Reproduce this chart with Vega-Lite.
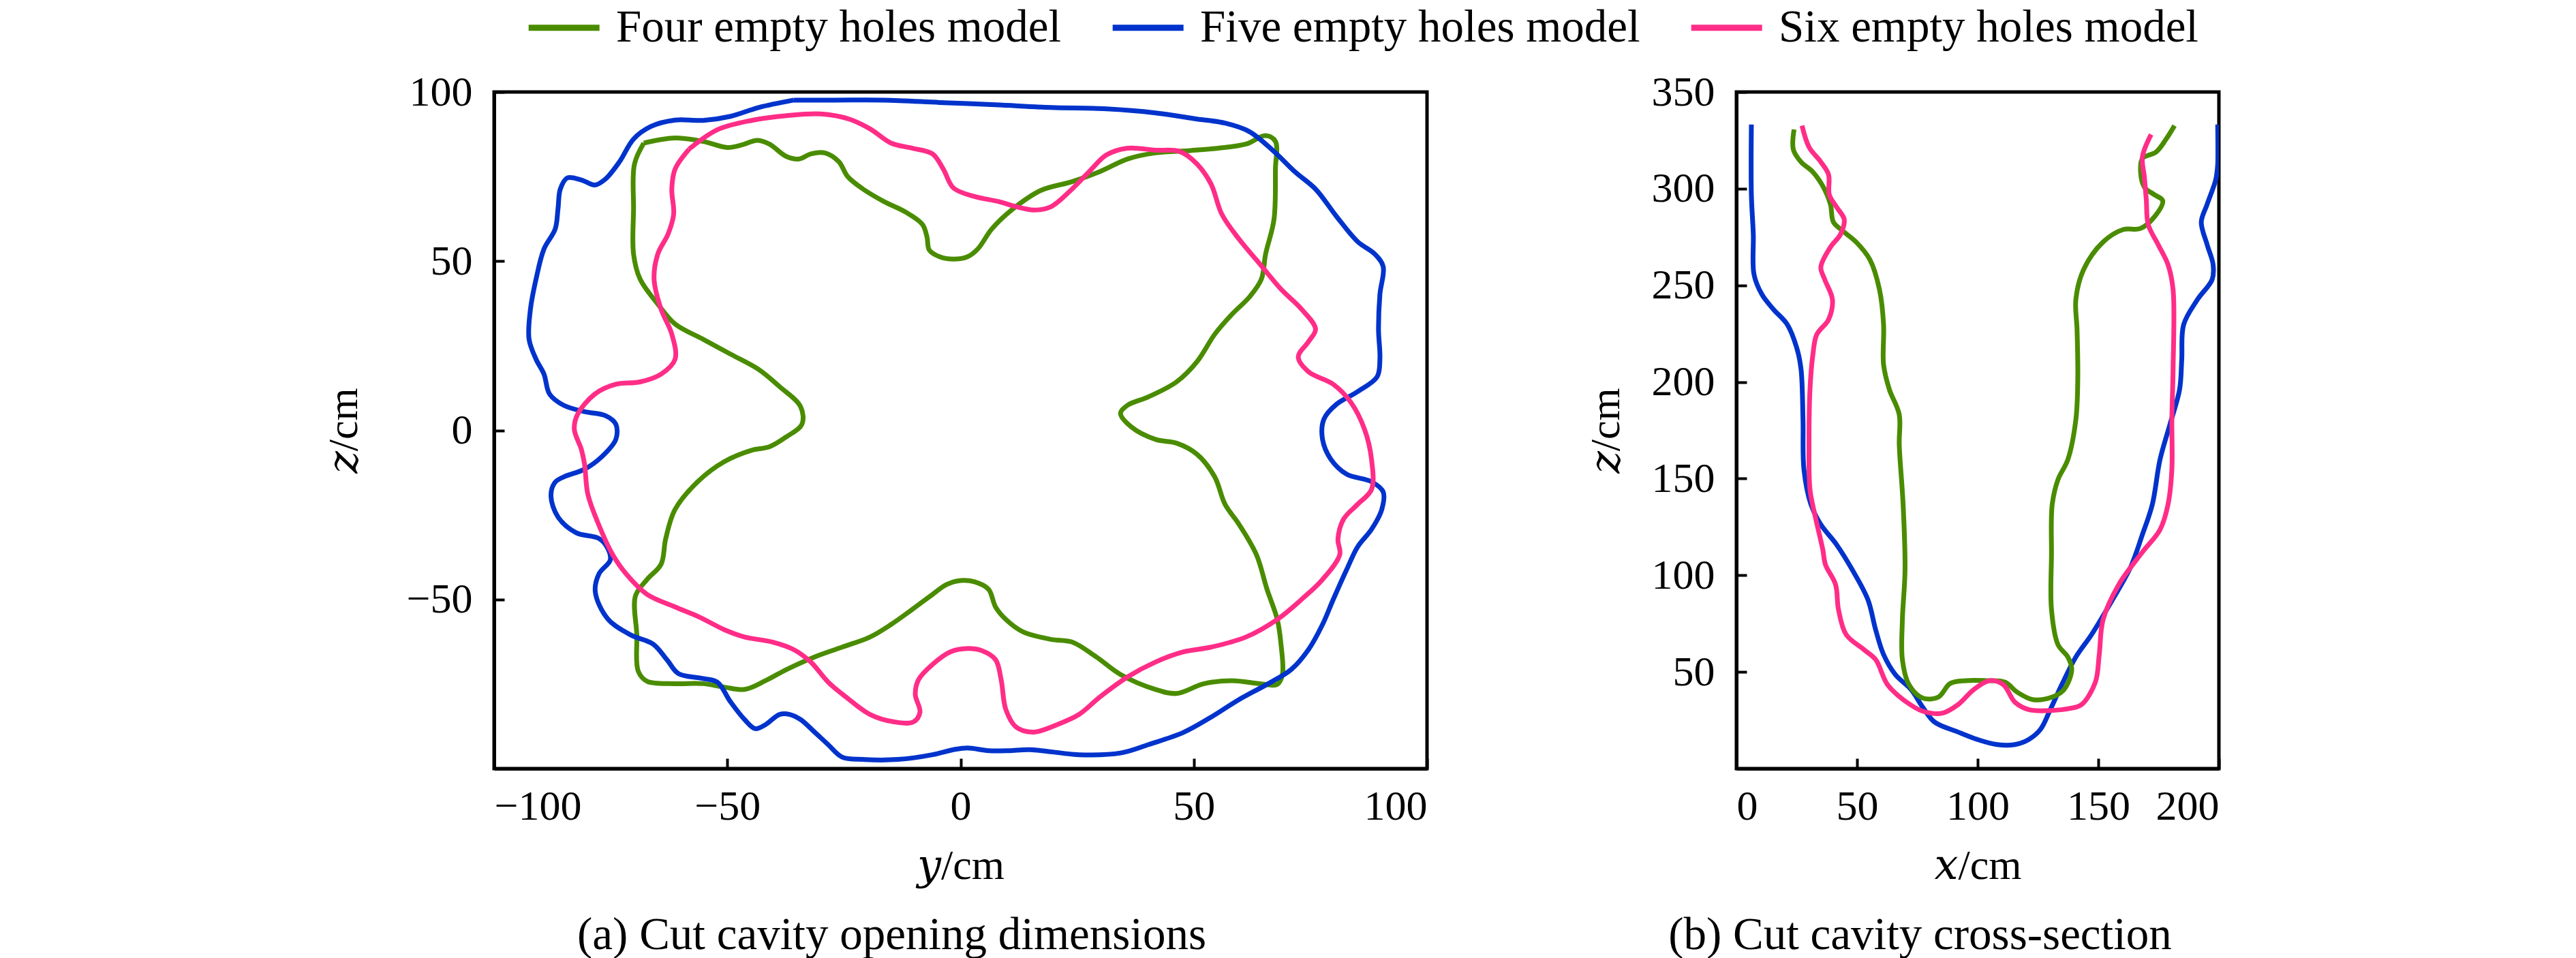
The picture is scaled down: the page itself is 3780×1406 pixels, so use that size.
{
  "$schema": "https://vega.github.io/schema/vega-lite/v6.json",
  "padding": {"left": 470, "top": 7, "right": 5, "bottom": 5},
  "background": "white",
  "config": {
    "font": "Liberation Serif",
    "view": {"stroke": "black", "strokeWidth": 5},
    "axis": {
      "grid": false,
      "domainColor": "black",
      "domainWidth": 5,
      "tickColor": "black",
      "tickWidth": 4,
      "tickSize": -15,
      "labelFont": "Liberation Serif",
      "labelFontSize": 62,
      "labelColor": "black",
      "titleFont": "Liberation Serif, DejaVu Serif",
      "titleFontSize": 62,
      "titleFontWeight": "normal",
      "titleColor": "black"
    },
    "axisX": {"labelPadding": 40, "titlePadding": 26},
    "axisY": {"labelPadding": 47},
    "title": {
      "font": "Liberation Serif",
      "fontSize": 67,
      "fontWeight": "normal",
      "color": "black",
      "orient": "bottom",
      "frame": "bounds",
      "offset": 39
    }
  },
  "spacing": 223,
  "datasets": {
    "opening": [
      {"model": "Four empty holes model", "i": 0, "y": -67.9, "z": 84.9},
      {"model": "Four empty holes model", "i": 1, "y": -61.2, "z": 86.4},
      {"model": "Four empty holes model", "i": 2, "y": -55.2, "z": 85.4},
      {"model": "Four empty holes model", "i": 3, "y": -50.0, "z": 83.6},
      {"model": "Four empty holes model", "i": 4, "y": -47.0, "z": 84.3},
      {"model": "Four empty holes model", "i": 5, "y": -43.6, "z": 85.7},
      {"model": "Four empty holes model", "i": 6, "y": -41.0, "z": 84.6},
      {"model": "Four empty holes model", "i": 7, "y": -37.3, "z": 80.9},
      {"model": "Four empty holes model", "i": 8, "y": -34.6, "z": 80.2},
      {"model": "Four empty holes model", "i": 9, "y": -32.1, "z": 81.7},
      {"model": "Four empty holes model", "i": 10, "y": -29.1, "z": 82.0},
      {"model": "Four empty holes model", "i": 11, "y": -26.1, "z": 79.4},
      {"model": "Four empty holes model", "i": 12, "y": -24.2, "z": 75.0},
      {"model": "Four empty holes model", "i": 13, "y": -20.9, "z": 71.3},
      {"model": "Four empty holes model", "i": 14, "y": -16.4, "z": 67.6},
      {"model": "Four empty holes model", "i": 15, "y": -11.9, "z": 64.6},
      {"model": "Four empty holes model", "i": 16, "y": -8.2, "z": 60.9},
      {"model": "Four empty holes model", "i": 17, "y": -7.2, "z": 57.2},
      {"model": "Four empty holes model", "i": 18, "y": -6.7, "z": 53.3},
      {"model": "Four empty holes model", "i": 19, "y": -4.5, "z": 51.3},
      {"model": "Four empty holes model", "i": 20, "y": -1.5, "z": 50.6},
      {"model": "Four empty holes model", "i": 21, "y": 1.5, "z": 51.3},
      {"model": "Four empty holes model", "i": 22, "y": 3.7, "z": 53.6},
      {"model": "Four empty holes model", "i": 23, "y": 6.7, "z": 59.5},
      {"model": "Four empty holes model", "i": 24, "y": 11.2, "z": 65.4},
      {"model": "Four empty holes model", "i": 25, "y": 17.2, "z": 70.9},
      {"model": "Four empty holes model", "i": 26, "y": 23.9, "z": 73.5},
      {"model": "Four empty holes model", "i": 27, "y": 29.9, "z": 76.5},
      {"model": "Four empty holes model", "i": 28, "y": 35.8, "z": 80.2},
      {"model": "Four empty holes model", "i": 29, "y": 41.8, "z": 82.0},
      {"model": "Four empty holes model", "i": 30, "y": 49.3, "z": 82.7},
      {"model": "Four empty holes model", "i": 31, "y": 55.2, "z": 83.4},
      {"model": "Four empty holes model", "i": 32, "y": 61.2, "z": 84.6},
      {"model": "Four empty holes model", "i": 33, "y": 65.4, "z": 87.1},
      {"model": "Four empty holes model", "i": 34, "y": 67.5, "z": 85.4},
      {"model": "Four empty holes model", "i": 35, "y": 67.5, "z": 77.2},
      {"model": "Four empty holes model", "i": 36, "y": 67.2, "z": 62.4},
      {"model": "Four empty holes model", "i": 37, "y": 65.4, "z": 52.1},
      {"model": "Four empty holes model", "i": 38, "y": 64.5, "z": 44.7},
      {"model": "Four empty holes model", "i": 39, "y": 62.0, "z": 39.5},
      {"model": "Four empty holes model", "i": 40, "y": 58.2, "z": 34.3},
      {"model": "Four empty holes model", "i": 41, "y": 54.5, "z": 28.4},
      {"model": "Four empty holes model", "i": 42, "y": 50.7, "z": 20.3},
      {"model": "Four empty holes model", "i": 43, "y": 46.3, "z": 14.3},
      {"model": "Four empty holes model", "i": 44, "y": 40.3, "z": 9.9},
      {"model": "Four empty holes model", "i": 45, "y": 35.8, "z": 7.4},
      {"model": "Four empty holes model", "i": 46, "y": 34.3, "z": 5.0},
      {"model": "Four empty holes model", "i": 47, "y": 36.6, "z": 1.0},
      {"model": "Four empty holes model", "i": 48, "y": 41.8, "z": -2.7},
      {"model": "Four empty holes model", "i": 49, "y": 46.3, "z": -3.8},
      {"model": "Four empty holes model", "i": 50, "y": 50.7, "z": -7.1},
      {"model": "Four empty holes model", "i": 51, "y": 54.5, "z": -13.8},
      {"model": "Four empty holes model", "i": 52, "y": 56.7, "z": -21.9},
      {"model": "Four empty holes model", "i": 53, "y": 59.7, "z": -27.8},
      {"model": "Four empty holes model", "i": 54, "y": 63.4, "z": -36.7},
      {"model": "Four empty holes model", "i": 55, "y": 65.7, "z": -47.0},
      {"model": "Four empty holes model", "i": 56, "y": 67.9, "z": -55.9},
      {"model": "Four empty holes model", "i": 57, "y": 68.7, "z": -63.3},
      {"model": "Four empty holes model", "i": 58, "y": 69.0, "z": -72.2},
      {"model": "Four empty holes model", "i": 59, "y": 67.9, "z": -75.1},
      {"model": "Four empty holes model", "i": 60, "y": 64.2, "z": -74.9},
      {"model": "Four empty holes model", "i": 61, "y": 58.2, "z": -74.0},
      {"model": "Four empty holes model", "i": 62, "y": 52.2, "z": -74.9},
      {"model": "Four empty holes model", "i": 63, "y": 46.3, "z": -77.8},
      {"model": "Four empty holes model", "i": 64, "y": 41.8, "z": -76.6},
      {"model": "Four empty holes model", "i": 65, "y": 34.3, "z": -72.2},
      {"model": "Four empty holes model", "i": 66, "y": 29.1, "z": -67.0},
      {"model": "Four empty holes model", "i": 67, "y": 23.9, "z": -62.6},
      {"model": "Four empty holes model", "i": 68, "y": 19.4, "z": -61.8},
      {"model": "Four empty holes model", "i": 69, "y": 13.4, "z": -59.6},
      {"model": "Four empty holes model", "i": 70, "y": 9.7, "z": -55.9},
      {"model": "Four empty holes model", "i": 71, "y": 7.5, "z": -52.2},
      {"model": "Four empty holes model", "i": 72, "y": 6.0, "z": -47.0},
      {"model": "Four empty holes model", "i": 73, "y": 3.0, "z": -44.8},
      {"model": "Four empty holes model", "i": 74, "y": 0.0, "z": -44.4},
      {"model": "Four empty holes model", "i": 75, "y": -3.0, "z": -45.6},
      {"model": "Four empty holes model", "i": 76, "y": -6.0, "z": -48.5},
      {"model": "Four empty holes model", "i": 77, "y": -10.4, "z": -53.0},
      {"model": "Four empty holes model", "i": 78, "y": -14.9, "z": -57.4},
      {"model": "Four empty holes model", "i": 79, "y": -19.4, "z": -61.1},
      {"model": "Four empty holes model", "i": 80, "y": -25.4, "z": -64.1},
      {"model": "Four empty holes model", "i": 81, "y": -31.3, "z": -67.0},
      {"model": "Four empty holes model", "i": 82, "y": -37.3, "z": -70.7},
      {"model": "Four empty holes model", "i": 83, "y": -41.8, "z": -74.0},
      {"model": "Four empty holes model", "i": 84, "y": -46.3, "z": -76.6},
      {"model": "Four empty holes model", "i": 85, "y": -50.7, "z": -75.9},
      {"model": "Four empty holes model", "i": 86, "y": -55.2, "z": -74.9},
      {"model": "Four empty holes model", "i": 87, "y": -61.2, "z": -74.9},
      {"model": "Four empty holes model", "i": 88, "y": -67.2, "z": -74.2},
      {"model": "Four empty holes model", "i": 89, "y": -69.1, "z": -71.2},
      {"model": "Four empty holes model", "i": 90, "y": -69.4, "z": -60.4},
      {"model": "Four empty holes model", "i": 91, "y": -69.7, "z": -49.0},
      {"model": "Four empty holes model", "i": 92, "y": -67.2, "z": -44.1},
      {"model": "Four empty holes model", "i": 93, "y": -64.2, "z": -39.6},
      {"model": "Four empty holes model", "i": 94, "y": -63.2, "z": -32.0},
      {"model": "Four empty holes model", "i": 95, "y": -61.2, "z": -23.4},
      {"model": "Four empty holes model", "i": 96, "y": -56.2, "z": -15.0},
      {"model": "Four empty holes model", "i": 97, "y": -50.7, "z": -9.3},
      {"model": "Four empty holes model", "i": 98, "y": -44.8, "z": -5.9},
      {"model": "Four empty holes model", "i": 99, "y": -41.0, "z": -4.9},
      {"model": "Four empty holes model", "i": 100, "y": -37.3, "z": -1.9},
      {"model": "Four empty holes model", "i": 101, "y": -34.0, "z": 1.8},
      {"model": "Four empty holes model", "i": 102, "y": -34.3, "z": 7.0},
      {"model": "Four empty holes model", "i": 103, "y": -38.8, "z": 12.9},
      {"model": "Four empty holes model", "i": 104, "y": -43.3, "z": 18.0},
      {"model": "Four empty holes model", "i": 105, "y": -49.3, "z": 22.5},
      {"model": "Four empty holes model", "i": 106, "y": -55.2, "z": 26.9},
      {"model": "Four empty holes model", "i": 107, "y": -61.2, "z": 31.4},
      {"model": "Four empty holes model", "i": 108, "y": -64.9, "z": 37.3},
      {"model": "Four empty holes model", "i": 109, "y": -68.7, "z": 44.7},
      {"model": "Four empty holes model", "i": 110, "y": -70.1, "z": 52.1},
      {"model": "Four empty holes model", "i": 111, "y": -70.1, "z": 65.4},
      {"model": "Four empty holes model", "i": 112, "y": -69.9, "z": 78.7},
      {"model": "Four empty holes model", "i": 113, "y": -67.9, "z": 84.9},
      {"model": "Five empty holes model", "i": 0, "y": -35.8, "z": 97.6},
      {"model": "Five empty holes model", "i": 1, "y": -26.9, "z": 97.6},
      {"model": "Five empty holes model", "i": 2, "y": -16.4, "z": 97.6},
      {"model": "Five empty holes model", "i": 3, "y": -4.5, "z": 96.9},
      {"model": "Five empty holes model", "i": 4, "y": 7.5, "z": 96.2},
      {"model": "Five empty holes model", "i": 5, "y": 19.4, "z": 95.4},
      {"model": "Five empty holes model", "i": 6, "y": 31.3, "z": 95.0},
      {"model": "Five empty holes model", "i": 7, "y": 41.8, "z": 93.8},
      {"model": "Five empty holes model", "i": 8, "y": 50.7, "z": 92.0},
      {"model": "Five empty holes model", "i": 9, "y": 56.7, "z": 90.8},
      {"model": "Five empty holes model", "i": 10, "y": 61.9, "z": 88.3},
      {"model": "Five empty holes model", "i": 11, "y": 67.2, "z": 82.4},
      {"model": "Five empty holes model", "i": 12, "y": 71.6, "z": 76.5},
      {"model": "Five empty holes model", "i": 13, "y": 76.1, "z": 71.3},
      {"model": "Five empty holes model", "i": 14, "y": 80.6, "z": 63.2},
      {"model": "Five empty holes model", "i": 15, "y": 85.1, "z": 55.8},
      {"model": "Five empty holes model", "i": 16, "y": 88.8, "z": 52.1},
      {"model": "Five empty holes model", "i": 17, "y": 90.6, "z": 48.4},
      {"model": "Five empty holes model", "i": 18, "y": 89.9, "z": 40.2},
      {"model": "Five empty holes model", "i": 19, "y": 89.6, "z": 29.9},
      {"model": "Five empty holes model", "i": 20, "y": 89.9, "z": 21.0},
      {"model": "Five empty holes model", "i": 21, "y": 89.3, "z": 15.8},
      {"model": "Five empty holes model", "i": 22, "y": 85.1, "z": 11.4},
      {"model": "Five empty holes model", "i": 23, "y": 80.6, "z": 7.7},
      {"model": "Five empty holes model", "i": 24, "y": 77.9, "z": 3.3},
      {"model": "Five empty holes model", "i": 25, "y": 77.6, "z": -2.7},
      {"model": "Five empty holes model", "i": 26, "y": 79.4, "z": -8.6},
      {"model": "Five empty holes model", "i": 27, "y": 82.8, "z": -13.0},
      {"model": "Five empty holes model", "i": 28, "y": 88.1, "z": -15.2},
      {"model": "Five empty holes model", "i": 29, "y": 90.6, "z": -18.2},
      {"model": "Five empty holes model", "i": 30, "y": 90.3, "z": -23.4},
      {"model": "Five empty holes model", "i": 31, "y": 88.1, "z": -29.3},
      {"model": "Five empty holes model", "i": 32, "y": 85.1, "z": -34.5},
      {"model": "Five empty holes model", "i": 33, "y": 82.8, "z": -41.1},
      {"model": "Five empty holes model", "i": 34, "y": 79.9, "z": -50.0},
      {"model": "Five empty holes model", "i": 35, "y": 77.6, "z": -57.4},
      {"model": "Five empty holes model", "i": 36, "y": 74.6, "z": -64.8},
      {"model": "Five empty holes model", "i": 37, "y": 70.9, "z": -70.7},
      {"model": "Five empty holes model", "i": 38, "y": 65.7, "z": -75.1},
      {"model": "Five empty holes model", "i": 39, "y": 59.7, "z": -79.6},
      {"model": "Five empty holes model", "i": 40, "y": 53.7, "z": -84.8},
      {"model": "Five empty holes model", "i": 41, "y": 47.8, "z": -89.3},
      {"model": "Five empty holes model", "i": 42, "y": 40.3, "z": -92.9},
      {"model": "Five empty holes model", "i": 43, "y": 34.3, "z": -95.4},
      {"model": "Five empty holes model", "i": 44, "y": 25.4, "z": -95.9},
      {"model": "Five empty holes model", "i": 45, "y": 14.9, "z": -94.4},
      {"model": "Five empty holes model", "i": 46, "y": 10.4, "z": -94.7},
      {"model": "Five empty holes model", "i": 47, "y": 6.0, "z": -94.7},
      {"model": "Five empty holes model", "i": 48, "y": 1.5, "z": -93.9},
      {"model": "Five empty holes model", "i": 49, "y": -1.5, "z": -94.4},
      {"model": "Five empty holes model", "i": 50, "y": -6.0, "z": -95.9},
      {"model": "Five empty holes model", "i": 51, "y": -13.4, "z": -97.3},
      {"model": "Five empty holes model", "i": 52, "y": -20.9, "z": -97.3},
      {"model": "Five empty holes model", "i": 53, "y": -25.4, "z": -96.6},
      {"model": "Five empty holes model", "i": 54, "y": -28.4, "z": -92.9},
      {"model": "Five empty holes model", "i": 55, "y": -31.3, "z": -89.2},
      {"model": "Five empty holes model", "i": 56, "y": -34.3, "z": -85.5},
      {"model": "Five empty holes model", "i": 57, "y": -36.6, "z": -84.0},
      {"model": "Five empty holes model", "i": 58, "y": -38.8, "z": -84.0},
      {"model": "Five empty holes model", "i": 59, "y": -41.8, "z": -87.0},
      {"model": "Five empty holes model", "i": 60, "y": -44.0, "z": -88.2},
      {"model": "Five empty holes model", "i": 61, "y": -46.3, "z": -85.5},
      {"model": "Five empty holes model", "i": 62, "y": -49.3, "z": -80.3},
      {"model": "Five empty holes model", "i": 63, "y": -52.2, "z": -74.4},
      {"model": "Five empty holes model", "i": 64, "y": -55.6, "z": -73.3},
      {"model": "Five empty holes model", "i": 65, "y": -60.5, "z": -71.9},
      {"model": "Five empty holes model", "i": 66, "y": -62.9, "z": -67.9},
      {"model": "Five empty holes model", "i": 67, "y": -65.9, "z": -63.2},
      {"model": "Five empty holes model", "i": 68, "y": -70.7, "z": -60.5},
      {"model": "Five empty holes model", "i": 69, "y": -75.6, "z": -55.8},
      {"model": "Five empty holes model", "i": 70, "y": -78.3, "z": -47.8},
      {"model": "Five empty holes model", "i": 71, "y": -77.5, "z": -42.4},
      {"model": "Five empty holes model", "i": 72, "y": -75.1, "z": -38.4},
      {"model": "Five empty holes model", "i": 73, "y": -75.6, "z": -35.0},
      {"model": "Five empty holes model", "i": 74, "y": -77.5, "z": -32.0},
      {"model": "Five empty holes model", "i": 75, "y": -82.4, "z": -30.3},
      {"model": "Five empty holes model", "i": 76, "y": -86.3, "z": -25.6},
      {"model": "Five empty holes model", "i": 77, "y": -87.8, "z": -19.5},
      {"model": "Five empty holes model", "i": 78, "y": -87.0, "z": -15.5},
      {"model": "Five empty holes model", "i": 79, "y": -85.1, "z": -13.8},
      {"model": "Five empty holes model", "i": 80, "y": -80.6, "z": -11.5},
      {"model": "Five empty holes model", "i": 81, "y": -76.9, "z": -7.8},
      {"model": "Five empty holes model", "i": 82, "y": -73.9, "z": -2.7},
      {"model": "Five empty holes model", "i": 83, "y": -73.9, "z": 1.8},
      {"model": "Five empty holes model", "i": 84, "y": -76.1, "z": 4.3},
      {"model": "Five empty holes model", "i": 85, "y": -80.6, "z": 5.5},
      {"model": "Five empty holes model", "i": 86, "y": -85.1, "z": 7.4},
      {"model": "Five empty holes model", "i": 87, "y": -88.1, "z": 10.7},
      {"model": "Five empty holes model", "i": 88, "y": -89.3, "z": 16.6},
      {"model": "Five empty holes model", "i": 89, "y": -91.0, "z": 21.0},
      {"model": "Five empty holes model", "i": 90, "y": -92.5, "z": 26.9},
      {"model": "Five empty holes model", "i": 91, "y": -92.2, "z": 35.8},
      {"model": "Five empty holes model", "i": 92, "y": -91.0, "z": 44.7},
      {"model": "Five empty holes model", "i": 93, "y": -89.3, "z": 53.6},
      {"model": "Five empty holes model", "i": 94, "y": -86.9, "z": 59.5},
      {"model": "Five empty holes model", "i": 95, "y": -86.3, "z": 65.4},
      {"model": "Five empty holes model", "i": 96, "y": -85.8, "z": 71.3},
      {"model": "Five empty holes model", "i": 97, "y": -84.3, "z": 74.6},
      {"model": "Five empty holes model", "i": 98, "y": -81.3, "z": 74.0},
      {"model": "Five empty holes model", "i": 99, "y": -78.4, "z": 72.5},
      {"model": "Five empty holes model", "i": 100, "y": -76.1, "z": 74.3},
      {"model": "Five empty holes model", "i": 101, "y": -73.1, "z": 79.4},
      {"model": "Five empty holes model", "i": 102, "y": -70.1, "z": 86.1},
      {"model": "Five empty holes model", "i": 103, "y": -66.4, "z": 89.8},
      {"model": "Five empty holes model", "i": 104, "y": -61.2, "z": 91.7},
      {"model": "Five empty holes model", "i": 105, "y": -55.2, "z": 91.6},
      {"model": "Five empty holes model", "i": 106, "y": -49.3, "z": 92.8},
      {"model": "Five empty holes model", "i": 107, "y": -43.3, "z": 95.4},
      {"model": "Five empty holes model", "i": 108, "y": -35.8, "z": 97.6},
      {"model": "Six empty holes model", "i": 0, "y": -58.2, "z": 83.1},
      {"model": "Six empty holes model", "i": 1, "y": -52.2, "z": 88.8},
      {"model": "Six empty holes model", "i": 2, "y": -44.8, "z": 91.6},
      {"model": "Six empty holes model", "i": 3, "y": -37.3, "z": 93.0},
      {"model": "Six empty holes model", "i": 4, "y": -29.9, "z": 93.5},
      {"model": "Six empty holes model", "i": 5, "y": -23.9, "z": 92.0},
      {"model": "Six empty holes model", "i": 6, "y": -19.4, "z": 89.1},
      {"model": "Six empty holes model", "i": 7, "y": -14.9, "z": 84.9},
      {"model": "Six empty holes model", "i": 8, "y": -10.4, "z": 83.4},
      {"model": "Six empty holes model", "i": 9, "y": -6.0, "z": 81.7},
      {"model": "Six empty holes model", "i": 10, "y": -3.7, "z": 77.2},
      {"model": "Six empty holes model", "i": 11, "y": -1.5, "z": 71.6},
      {"model": "Six empty holes model", "i": 12, "y": 3.0, "z": 69.1},
      {"model": "Six empty holes model", "i": 13, "y": 8.2, "z": 67.6},
      {"model": "Six empty holes model", "i": 14, "y": 11.9, "z": 66.1},
      {"model": "Six empty holes model", "i": 15, "y": 15.7, "z": 65.1},
      {"model": "Six empty holes model", "i": 16, "y": 19.4, "z": 66.1},
      {"model": "Six empty holes model", "i": 17, "y": 23.9, "z": 71.3},
      {"model": "Six empty holes model", "i": 18, "y": 27.6, "z": 76.5},
      {"model": "Six empty holes model", "i": 19, "y": 31.3, "z": 81.4},
      {"model": "Six empty holes model", "i": 20, "y": 35.8, "z": 83.4},
      {"model": "Six empty holes model", "i": 21, "y": 41.8, "z": 82.8},
      {"model": "Six empty holes model", "i": 22, "y": 47.0, "z": 82.4},
      {"model": "Six empty holes model", "i": 23, "y": 50.7, "z": 78.7},
      {"model": "Six empty holes model", "i": 24, "y": 53.7, "z": 72.8},
      {"model": "Six empty holes model", "i": 25, "y": 56.0, "z": 63.9},
      {"model": "Six empty holes model", "i": 26, "y": 59.7, "z": 56.5},
      {"model": "Six empty holes model", "i": 27, "y": 64.2, "z": 49.1},
      {"model": "Six empty holes model", "i": 28, "y": 68.7, "z": 41.7},
      {"model": "Six empty holes model", "i": 29, "y": 73.1, "z": 35.8},
      {"model": "Six empty holes model", "i": 30, "y": 76.1, "z": 29.9},
      {"model": "Six empty holes model", "i": 31, "y": 74.6, "z": 26.2},
      {"model": "Six empty holes model", "i": 32, "y": 72.4, "z": 21.7},
      {"model": "Six empty holes model", "i": 33, "y": 74.6, "z": 17.3},
      {"model": "Six empty holes model", "i": 34, "y": 79.9, "z": 13.6},
      {"model": "Six empty holes model", "i": 35, "y": 83.6, "z": 8.4},
      {"model": "Six empty holes model", "i": 36, "y": 86.6, "z": 0.3},
      {"model": "Six empty holes model", "i": 37, "y": 88.1, "z": -8.6},
      {"model": "Six empty holes model", "i": 38, "y": 88.1, "z": -17.5},
      {"model": "Six empty holes model", "i": 39, "y": 85.1, "z": -21.9},
      {"model": "Six empty holes model", "i": 40, "y": 82.1, "z": -26.3},
      {"model": "Six empty holes model", "i": 41, "y": 80.9, "z": -32.2},
      {"model": "Six empty holes model", "i": 42, "y": 81.3, "z": -36.7},
      {"model": "Six empty holes model", "i": 43, "y": 77.6, "z": -44.1},
      {"model": "Six empty holes model", "i": 44, "y": 73.1, "z": -50.0},
      {"model": "Six empty holes model", "i": 45, "y": 67.9, "z": -55.9},
      {"model": "Six empty holes model", "i": 46, "y": 61.2, "z": -61.1},
      {"model": "Six empty holes model", "i": 47, "y": 53.7, "z": -64.1},
      {"model": "Six empty holes model", "i": 48, "y": 47.8, "z": -65.5},
      {"model": "Six empty holes model", "i": 49, "y": 41.8, "z": -68.5},
      {"model": "Six empty holes model", "i": 50, "y": 35.8, "z": -72.9},
      {"model": "Six empty holes model", "i": 51, "y": 29.9, "z": -78.8},
      {"model": "Six empty holes model", "i": 52, "y": 25.4, "z": -84.0},
      {"model": "Six empty holes model", "i": 53, "y": 20.9, "z": -86.9},
      {"model": "Six empty holes model", "i": 54, "y": 15.7, "z": -89.2},
      {"model": "Six empty holes model", "i": 55, "y": 11.9, "z": -87.7},
      {"model": "Six empty holes model", "i": 56, "y": 9.7, "z": -82.5},
      {"model": "Six empty holes model", "i": 57, "y": 8.7, "z": -73.7},
      {"model": "Six empty holes model", "i": 58, "y": 7.5, "z": -67.8},
      {"model": "Six empty holes model", "i": 59, "y": 4.5, "z": -65.1},
      {"model": "Six empty holes model", "i": 60, "y": 1.5, "z": -64.5},
      {"model": "Six empty holes model", "i": 61, "y": -2.2, "z": -65.5},
      {"model": "Six empty holes model", "i": 62, "y": -6.0, "z": -69.2},
      {"model": "Six empty holes model", "i": 63, "y": -9.0, "z": -73.7},
      {"model": "Six empty holes model", "i": 64, "y": -9.7, "z": -78.1},
      {"model": "Six empty holes model", "i": 65, "y": -8.7, "z": -83.3},
      {"model": "Six empty holes model", "i": 66, "y": -10.1, "z": -86.2},
      {"model": "Six empty holes model", "i": 67, "y": -14.2, "z": -86.2},
      {"model": "Six empty holes model", "i": 68, "y": -19.4, "z": -84.0},
      {"model": "Six empty holes model", "i": 69, "y": -24.6, "z": -78.8},
      {"model": "Six empty holes model", "i": 70, "y": -28.4, "z": -74.4},
      {"model": "Six empty holes model", "i": 71, "y": -32.1, "z": -68.5},
      {"model": "Six empty holes model", "i": 72, "y": -35.8, "z": -64.8},
      {"model": "Six empty holes model", "i": 73, "y": -40.3, "z": -62.6},
      {"model": "Six empty holes model", "i": 74, "y": -46.3, "z": -61.1},
      {"model": "Six empty holes model", "i": 75, "y": -50.7, "z": -58.9},
      {"model": "Six empty holes model", "i": 76, "y": -56.0, "z": -55.2},
      {"model": "Six empty holes model", "i": 77, "y": -61.2, "z": -52.2},
      {"model": "Six empty holes model", "i": 78, "y": -67.2, "z": -48.5},
      {"model": "Six empty holes model", "i": 79, "y": -71.6, "z": -42.6},
      {"model": "Six empty holes model", "i": 80, "y": -74.6, "z": -36.7},
      {"model": "Six empty holes model", "i": 81, "y": -77.6, "z": -27.8},
      {"model": "Six empty holes model", "i": 82, "y": -79.9, "z": -18.9},
      {"model": "Six empty holes model", "i": 83, "y": -80.6, "z": -10.1},
      {"model": "Six empty holes model", "i": 84, "y": -81.3, "z": -5.6},
      {"model": "Six empty holes model", "i": 85, "y": -82.8, "z": 0.3},
      {"model": "Six empty holes model", "i": 86, "y": -82.1, "z": 4.7},
      {"model": "Six empty holes model", "i": 87, "y": -78.4, "z": 10.7},
      {"model": "Six empty holes model", "i": 88, "y": -73.9, "z": 13.6},
      {"model": "Six empty holes model", "i": 89, "y": -68.7, "z": 14.3},
      {"model": "Six empty holes model", "i": 90, "y": -64.2, "z": 16.6},
      {"model": "Six empty holes model", "i": 91, "y": -61.2, "z": 21.0},
      {"model": "Six empty holes model", "i": 92, "y": -61.9, "z": 28.4},
      {"model": "Six empty holes model", "i": 93, "y": -64.2, "z": 35.8},
      {"model": "Six empty holes model", "i": 94, "y": -65.7, "z": 44.7},
      {"model": "Six empty holes model", "i": 95, "y": -64.9, "z": 52.1},
      {"model": "Six empty holes model", "i": 96, "y": -62.7, "z": 58.0},
      {"model": "Six empty holes model", "i": 97, "y": -61.5, "z": 63.9},
      {"model": "Six empty holes model", "i": 98, "y": -61.9, "z": 71.3},
      {"model": "Six empty holes model", "i": 99, "y": -61.2, "z": 77.2},
      {"model": "Six empty holes model", "i": 100, "y": -58.2, "z": 83.1}
    ],
    "section": [
      {"model": "Five empty holes model", "i": 0, "x": 6.2, "z": 333.2},
      {"model": "Five empty holes model", "i": 1, "x": 6.2, "z": 296.9},
      {"model": "Five empty holes model", "i": 2, "x": 7.0, "z": 276.3},
      {"model": "Five empty holes model", "i": 3, "x": 7.3, "z": 255.6},
      {"model": "Five empty holes model", "i": 4, "x": 10.6, "z": 245.2},
      {"model": "Five empty holes model", "i": 5, "x": 15.4, "z": 237.5},
      {"model": "Five empty holes model", "i": 6, "x": 21.1, "z": 229.7},
      {"model": "Five empty holes model", "i": 7, "x": 25.2, "z": 216.8},
      {"model": "Five empty holes model", "i": 8, "x": 26.8, "z": 206.4},
      {"model": "Five empty holes model", "i": 9, "x": 27.6, "z": 180.5},
      {"model": "Five empty holes model", "i": 10, "x": 28.0, "z": 154.7},
      {"model": "Five empty holes model", "i": 11, "x": 30.9, "z": 136.6},
      {"model": "Five empty holes model", "i": 12, "x": 35.0, "z": 126.2},
      {"model": "Five empty holes model", "i": 13, "x": 41.5, "z": 115.9},
      {"model": "Five empty holes model", "i": 14, "x": 48.0, "z": 102.9},
      {"model": "Five empty holes model", "i": 15, "x": 54.5, "z": 87.4},
      {"model": "Five empty holes model", "i": 16, "x": 57.7, "z": 71.9},
      {"model": "Five empty holes model", "i": 17, "x": 61.0, "z": 59.0},
      {"model": "Five empty holes model", "i": 18, "x": 65.9, "z": 48.6},
      {"model": "Five empty holes model", "i": 19, "x": 72.4, "z": 40.9},
      {"model": "Five empty holes model", "i": 20, "x": 77.2, "z": 31.8},
      {"model": "Five empty holes model", "i": 21, "x": 82.1, "z": 24.1},
      {"model": "Five empty holes model", "i": 22, "x": 91.9, "z": 18.9},
      {"model": "Five empty holes model", "i": 23, "x": 100.0, "z": 15.0},
      {"model": "Five empty holes model", "i": 24, "x": 108.1, "z": 12.4},
      {"model": "Five empty holes model", "i": 25, "x": 115.4, "z": 12.4},
      {"model": "Five empty holes model", "i": 26, "x": 121.1, "z": 15.0},
      {"model": "Five empty holes model", "i": 27, "x": 126.0, "z": 20.2},
      {"model": "Five empty holes model", "i": 28, "x": 130.1, "z": 30.5},
      {"model": "Five empty holes model", "i": 29, "x": 134.9, "z": 43.5},
      {"model": "Five empty holes model", "i": 30, "x": 140.7, "z": 57.7},
      {"model": "Five empty holes model", "i": 31, "x": 147.2, "z": 69.3},
      {"model": "Five empty holes model", "i": 32, "x": 155.3, "z": 86.1},
      {"model": "Five empty holes model", "i": 33, "x": 163.4, "z": 104.2},
      {"model": "Five empty holes model", "i": 34, "x": 168.3, "z": 121.1},
      {"model": "Five empty holes model", "i": 35, "x": 172.4, "z": 136.6},
      {"model": "Five empty holes model", "i": 36, "x": 175.6, "z": 159.9},
      {"model": "Five empty holes model", "i": 37, "x": 179.7, "z": 178.0},
      {"model": "Five empty holes model", "i": 38, "x": 183.7, "z": 196.1},
      {"model": "Five empty holes model", "i": 39, "x": 184.6, "z": 211.6},
      {"model": "Five empty holes model", "i": 40, "x": 185.4, "z": 229.7},
      {"model": "Five empty holes model", "i": 41, "x": 191.1, "z": 242.6},
      {"model": "Five empty holes model", "i": 42, "x": 197.2, "z": 253.0},
      {"model": "Five empty holes model", "i": 43, "x": 197.6, "z": 260.7},
      {"model": "Five empty holes model", "i": 44, "x": 195.1, "z": 271.1},
      {"model": "Five empty holes model", "i": 45, "x": 192.7, "z": 282.7},
      {"model": "Five empty holes model", "i": 46, "x": 195.1, "z": 291.8},
      {"model": "Five empty holes model", "i": 47, "x": 198.7, "z": 304.7},
      {"model": "Five empty holes model", "i": 48, "x": 199.5, "z": 312.5},
      {"model": "Five empty holes model", "i": 49, "x": 199.5, "z": 333.2},
      {"model": "Four empty holes model", "i": 0, "x": 23.9, "z": 330.6},
      {"model": "Four empty holes model", "i": 1, "x": 23.6, "z": 320.2},
      {"model": "Four empty holes model", "i": 2, "x": 26.8, "z": 313.8},
      {"model": "Four empty holes model", "i": 3, "x": 31.7, "z": 308.6},
      {"model": "Four empty holes model", "i": 4, "x": 36.6, "z": 299.5},
      {"model": "Four empty holes model", "i": 5, "x": 39.0, "z": 291.8},
      {"model": "Four empty holes model", "i": 6, "x": 40.2, "z": 282.7},
      {"model": "Four empty holes model", "i": 7, "x": 43.9, "z": 278.3},
      {"model": "Four empty holes model", "i": 8, "x": 49.6, "z": 272.4},
      {"model": "Four empty holes model", "i": 9, "x": 55.3, "z": 263.3},
      {"model": "Four empty holes model", "i": 10, "x": 59.3, "z": 247.8},
      {"model": "Four empty holes model", "i": 11, "x": 61.0, "z": 229.7},
      {"model": "Four empty holes model", "i": 12, "x": 61.0, "z": 209.0},
      {"model": "Four empty holes model", "i": 13, "x": 63.4, "z": 196.1},
      {"model": "Four empty holes model", "i": 14, "x": 67.5, "z": 183.1},
      {"model": "Four empty holes model", "i": 15, "x": 67.5, "z": 167.6},
      {"model": "Four empty holes model", "i": 16, "x": 69.1, "z": 136.6},
      {"model": "Four empty holes model", "i": 17, "x": 69.9, "z": 102.9},
      {"model": "Four empty holes model", "i": 18, "x": 68.8, "z": 77.1},
      {"model": "Four empty holes model", "i": 19, "x": 68.8, "z": 56.4},
      {"model": "Four empty holes model", "i": 20, "x": 71.5, "z": 43.5},
      {"model": "Four empty holes model", "i": 21, "x": 77.2, "z": 36.5},
      {"model": "Four empty holes model", "i": 22, "x": 83.7, "z": 37.0},
      {"model": "Four empty holes model", "i": 23, "x": 88.6, "z": 44.0},
      {"model": "Four empty holes model", "i": 24, "x": 95.1, "z": 45.5},
      {"model": "Four empty holes model", "i": 25, "x": 103.3, "z": 45.5},
      {"model": "Four empty holes model", "i": 26, "x": 111.4, "z": 44.7},
      {"model": "Four empty holes model", "i": 27, "x": 116.3, "z": 39.6},
      {"model": "Four empty holes model", "i": 28, "x": 122.8, "z": 35.7},
      {"model": "Four empty holes model", "i": 29, "x": 130.9, "z": 37.0},
      {"model": "Four empty holes model", "i": 30, "x": 135.8, "z": 40.9},
      {"model": "Four empty holes model", "i": 31, "x": 139.0, "z": 51.2},
      {"model": "Four empty holes model", "i": 32, "x": 137.4, "z": 57.7},
      {"model": "Four empty holes model", "i": 33, "x": 133.3, "z": 64.1},
      {"model": "Four empty holes model", "i": 34, "x": 130.6, "z": 82.3},
      {"model": "Four empty holes model", "i": 35, "x": 130.6, "z": 110.7},
      {"model": "Four empty holes model", "i": 36, "x": 130.9, "z": 136.6},
      {"model": "Four empty holes model", "i": 37, "x": 133.3, "z": 149.5},
      {"model": "Four empty holes model", "i": 38, "x": 137.4, "z": 159.9},
      {"model": "Four empty holes model", "i": 39, "x": 140.7, "z": 180.5},
      {"model": "Four empty holes model", "i": 40, "x": 141.5, "z": 201.2},
      {"model": "Four empty holes model", "i": 41, "x": 141.2, "z": 227.1},
      {"model": "Four empty holes model", "i": 42, "x": 140.7, "z": 242.6},
      {"model": "Four empty holes model", "i": 43, "x": 143.9, "z": 258.1},
      {"model": "Four empty holes model", "i": 44, "x": 152.0, "z": 272.4},
      {"model": "Four empty holes model", "i": 45, "x": 160.2, "z": 278.8},
      {"model": "Four empty holes model", "i": 46, "x": 167.5, "z": 279.4},
      {"model": "Four empty holes model", "i": 47, "x": 173.2, "z": 285.3},
      {"model": "Four empty holes model", "i": 48, "x": 176.7, "z": 293.8},
      {"model": "Four empty holes model", "i": 49, "x": 173.2, "z": 296.9},
      {"model": "Four empty holes model", "i": 50, "x": 169.1, "z": 300.8},
      {"model": "Four empty holes model", "i": 51, "x": 167.5, "z": 309.9},
      {"model": "Four empty holes model", "i": 52, "x": 168.3, "z": 315.6},
      {"model": "Four empty holes model", "i": 53, "x": 174.0, "z": 319.0},
      {"model": "Four empty holes model", "i": 54, "x": 178.0, "z": 325.4},
      {"model": "Four empty holes model", "i": 55, "x": 181.6, "z": 332.6},
      {"model": "Six empty holes model", "i": 0, "x": 27.2, "z": 332.6},
      {"model": "Six empty holes model", "i": 1, "x": 30.1, "z": 321.5},
      {"model": "Six empty holes model", "i": 2, "x": 35.0, "z": 313.8},
      {"model": "Six empty holes model", "i": 3, "x": 38.2, "z": 307.3},
      {"model": "Six empty holes model", "i": 4, "x": 38.5, "z": 296.9},
      {"model": "Six empty holes model", "i": 5, "x": 41.5, "z": 290.5},
      {"model": "Six empty holes model", "i": 6, "x": 44.7, "z": 284.0},
      {"model": "Six empty holes model", "i": 7, "x": 43.1, "z": 276.3},
      {"model": "Six empty holes model", "i": 8, "x": 39.0, "z": 269.8},
      {"model": "Six empty holes model", "i": 9, "x": 35.0, "z": 259.4},
      {"model": "Six empty holes model", "i": 10, "x": 36.6, "z": 253.0},
      {"model": "Six empty holes model", "i": 11, "x": 39.8, "z": 242.6},
      {"model": "Six empty holes model", "i": 12, "x": 38.2, "z": 232.3},
      {"model": "Six empty holes model", "i": 13, "x": 33.3, "z": 224.5},
      {"model": "Six empty holes model", "i": 14, "x": 31.7, "z": 214.2},
      {"model": "Six empty holes model", "i": 15, "x": 30.5, "z": 196.1},
      {"model": "Six empty holes model", "i": 16, "x": 30.1, "z": 167.6},
      {"model": "Six empty holes model", "i": 17, "x": 30.5, "z": 144.3},
      {"model": "Six empty holes model", "i": 18, "x": 32.5, "z": 131.4},
      {"model": "Six empty holes model", "i": 19, "x": 35.8, "z": 113.3},
      {"model": "Six empty holes model", "i": 20, "x": 36.9, "z": 105.5},
      {"model": "Six empty holes model", "i": 21, "x": 41.1, "z": 95.2},
      {"model": "Six empty holes model", "i": 22, "x": 42.3, "z": 82.3},
      {"model": "Six empty holes model", "i": 23, "x": 45.5, "z": 69.3},
      {"model": "Six empty holes model", "i": 24, "x": 52.8, "z": 61.6},
      {"model": "Six empty holes model", "i": 25, "x": 57.7, "z": 56.4},
      {"model": "Six empty holes model", "i": 26, "x": 62.6, "z": 43.5},
      {"model": "Six empty holes model", "i": 27, "x": 69.1, "z": 35.7},
      {"model": "Six empty holes model", "i": 28, "x": 77.2, "z": 29.7},
      {"model": "Six empty holes model", "i": 29, "x": 85.4, "z": 28.7},
      {"model": "Six empty holes model", "i": 30, "x": 91.9, "z": 33.1},
      {"model": "Six empty holes model", "i": 31, "x": 98.4, "z": 40.9},
      {"model": "Six empty holes model", "i": 32, "x": 104.9, "z": 45.5},
      {"model": "Six empty holes model", "i": 33, "x": 110.6, "z": 43.5},
      {"model": "Six empty holes model", "i": 34, "x": 115.4, "z": 34.4},
      {"model": "Six empty holes model", "i": 35, "x": 121.1, "z": 30.5},
      {"model": "Six empty holes model", "i": 36, "x": 129.3, "z": 30.0},
      {"model": "Six empty holes model", "i": 37, "x": 139.0, "z": 31.3},
      {"model": "Six empty holes model", "i": 38, "x": 143.1, "z": 33.1},
      {"model": "Six empty holes model", "i": 39, "x": 148.8, "z": 44.7},
      {"model": "Six empty holes model", "i": 40, "x": 150.4, "z": 59.0},
      {"model": "Six empty holes model", "i": 41, "x": 152.0, "z": 77.1},
      {"model": "Six empty holes model", "i": 42, "x": 158.5, "z": 95.2},
      {"model": "Six empty holes model", "i": 43, "x": 168.3, "z": 112.0},
      {"model": "Six empty holes model", "i": 44, "x": 175.6, "z": 123.6},
      {"model": "Six empty holes model", "i": 45, "x": 178.9, "z": 136.6},
      {"model": "Six empty holes model", "i": 46, "x": 180.5, "z": 154.7},
      {"model": "Six empty holes model", "i": 47, "x": 180.5, "z": 180.5},
      {"model": "Six empty holes model", "i": 48, "x": 181.0, "z": 206.4},
      {"model": "Six empty holes model", "i": 49, "x": 181.0, "z": 247.8},
      {"model": "Six empty holes model", "i": 50, "x": 178.9, "z": 260.7},
      {"model": "Six empty holes model", "i": 51, "x": 174.8, "z": 271.1},
      {"model": "Six empty holes model", "i": 52, "x": 170.7, "z": 281.4},
      {"model": "Six empty holes model", "i": 53, "x": 169.9, "z": 294.4},
      {"model": "Six empty holes model", "i": 54, "x": 169.1, "z": 306.0},
      {"model": "Six empty holes model", "i": 55, "x": 168.3, "z": 316.4},
      {"model": "Six empty holes model", "i": 56, "x": 171.9, "z": 328.0}
    ]
  },
  "hconcat": [
    {
      "width": 1369,
      "height": 993,
      "title": {"text": "(a) Cut cavity opening dimensions", "dx": 24},
      "data": {"name": "opening"},
      "mark": {"type": "line", "strokeWidth": 7, "interpolate": "catmull-rom", "clip": true},
      "encoding": {
        "x": {
          "field": "y",
          "type": "quantitative",
          "scale": {"domain": [-100, 100], "nice": false, "zero": false},
          "axis": {"values": [-100, -50, 0, 50, 100], "title": "𝑦/cm"}
        },
        "y": {
          "field": "z",
          "type": "quantitative",
          "scale": {"domain": [-100, 100], "nice": false, "zero": false},
          "axis": {"values": [-50, 0, 50, 100], "title": "𝑧/cm", "titlePadding": 60}
        },
        "color": {
          "field": "model",
          "type": "nominal",
          "scale": {
            "domain": ["Four empty holes model", "Five empty holes model", "Six empty holes model"],
            "range": ["#4a8c00", "#0033cc", "#ff2d87"]
          },
          "legend": {
            "title": null,
            "orient": "none",
            "direction": "horizontal",
            "legendX": 38,
            "legendY": -128,
            "symbolType": "M-1,0H4",
            "symbolSize": 1730,
            "symbolStrokeWidth": 9,
            "labelFont": "Liberation Serif",
            "labelFontSize": 67,
            "labelColor": "black",
            "labelOffset": 74,
            "labelLimit": 2000,
            "columnPadding": 56
          }
        },
        "order": {"field": "i", "type": "quantitative"}
      }
    },
    {
      "width": 708,
      "height": 993,
      "title": {"text": "(b) Cut cavity cross-section", "dx": 26},
      "data": {"name": "section"},
      "mark": {"type": "line", "strokeWidth": 7, "interpolate": "catmull-rom", "clip": true},
      "encoding": {
        "x": {
          "field": "x",
          "type": "quantitative",
          "scale": {"domain": [0, 200], "nice": false},
          "axis": {"values": [0, 50, 100, 150, 200], "title": "𝑥/cm"}
        },
        "y": {
          "field": "z",
          "type": "quantitative",
          "scale": {"domain": [0, 350], "nice": false},
          "axis": {"values": [50, 100, 150, 200, 250, 300, 350], "title": "𝑧/cm", "titlePadding": 35}
        },
        "color": {
          "field": "model",
          "type": "nominal",
          "scale": {
            "domain": ["Four empty holes model", "Five empty holes model", "Six empty holes model"],
            "range": ["#4a8c00", "#0033cc", "#ff2d87"]
          }
        },
        "order": {"field": "i", "type": "quantitative"}
      }
    }
  ]
}
